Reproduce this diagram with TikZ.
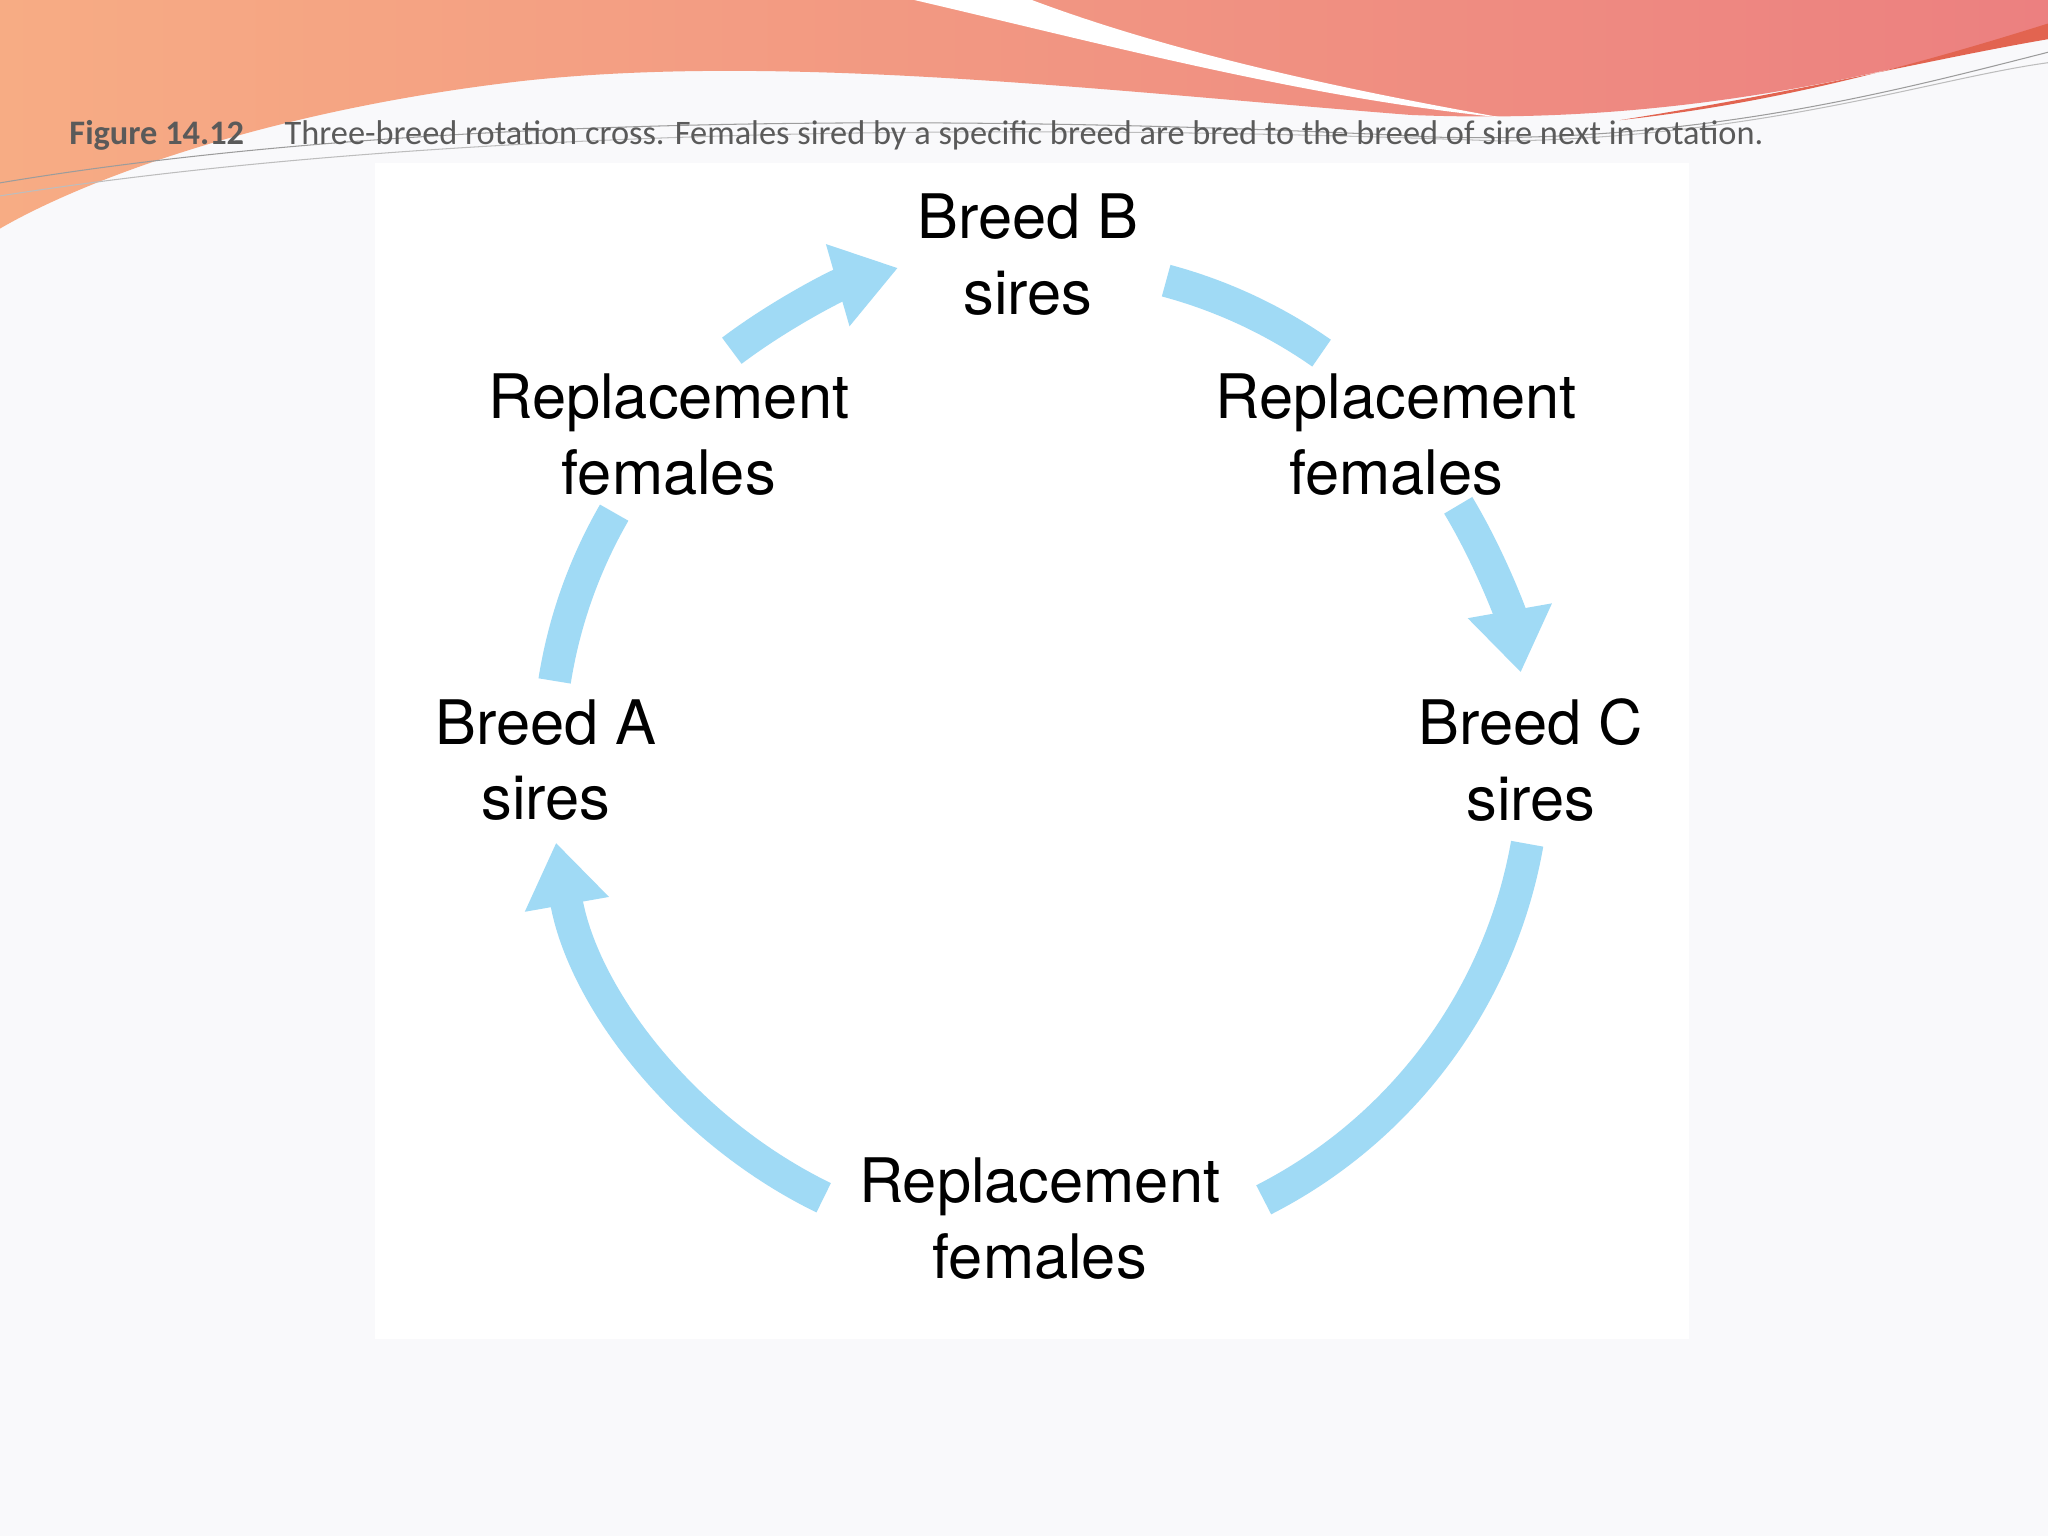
\documentclass[tikz,border=0pt]{standalone}
\usepackage{fontspec}
\setmainfont{TeX Gyre Heros}
\newfontfamily\capfont{Carlito}
\usetikzlibrary{arrows.meta}
\definecolor{arrowblue}{RGB}{160,218,245}
\definecolor{capgray}{RGB}{90,90,90}
\definecolor{hdrA}{RGB}{247,172,132}
\definecolor{hdrB}{RGB}{236,128,128}
\definecolor{hdrC}{RGB}{226,100,80}
\definecolor{bgc}{RGB}{249,249,251}
\tikzset{
  band/.style={line width=25pt, arrowblue},
  headed/.style={band, -{Triangle[width=62pt,length=48pt]}},
  lbl/.style={font=\fontsize{47}{58}\selectfont, align=center, text=black}
}
\begin{document}
\begin{tikzpicture}[x=1pt,y=-1pt]
\useasboundingbox (0,0) rectangle (1568,1176);
\fill[bgc] (0,0) rectangle (1568,1176);
\fill[white] (287,125) rectangle (1293,1025);
% header
\shade[left color=hdrA, right color=hdrB]
 (0,0) -- (1568,0) -- (1568,22) .. controls (1400,70) and (1250,95) .. (1080,88)
 .. controls (850,70) and (600,40) .. (400,62) .. controls (200,85) and (60,140) .. (0,175) -- cycle;
\fill[white] (700,0) .. controls (850,35) and (1000,75) .. (1150,90) .. controls (980,60) and (870,30) .. (790,0) -- cycle;
\fill[hdrC] (1568,18) .. controls (1450,55) and (1350,80) .. (1240,92) .. controls (1380,70) and (1480,45) .. (1568,30) -- cycle;
\draw[capgray!60, line width=0.8pt] (0,140) .. controls (300,90) and (700,85) .. (1100,105) .. controls (1300,110) and (1450,70) .. (1568,40);
\draw[capgray!40, line width=0.8pt] (0,150) .. controls (350,95) and (800,95) .. (1150,108) .. controls (1350,105) and (1480,60) .. (1568,48);
% caption
\node[anchor=west, text=capgray, font=\capfont\fontsize{26.3}{28}\selectfont, inner sep=0pt] (cap) at (53,104)
 {\textbf{Figure 14.12}\hspace{31pt}Three-breed rotation cross. Females sired by a specific breed are bred to the breed of sire next in rotation.};
% labels
\node[lbl] (B) at (787,195) {Breed B\\sires};
\node[lbl] (RL) at (512,333) {Replacement\\females};
\node[lbl] (RR) at (1069,333) {Replacement\\females};
\node[lbl] (A) at (418,582) {Breed A\\sires};
\node[lbl] (C) at (1172,582) {Breed C\\sires};
\node[lbl] (RB) at (796,933) {Replacement\\females};
% arrows
\coordinate (O) at (795,580);
\draw[band] ([shift={(-171:375)}]O) arc[start angle=-171, end angle=-150, radius=375];
\draw[headed] ([shift={(-127:390)}]O) arc[start angle=-127, end angle=-106, radius=390];
\draw[band] ([shift={(-75:378)}]O) arc[start angle=-75, end angle=-55, radius=378];
\draw[headed] ([shift={(-31:375)}]O) arc[start angle=-31, end angle=-10, radius=375];
\draw[band] ([shift={(10:380)}]O) arc[start angle=10, end angle=63, radius=380];
\draw[headed] ([shift={(116:375)}]O) arc[start angle=116, end angle=170, radius=375];
\end{tikzpicture}
\end{document}
